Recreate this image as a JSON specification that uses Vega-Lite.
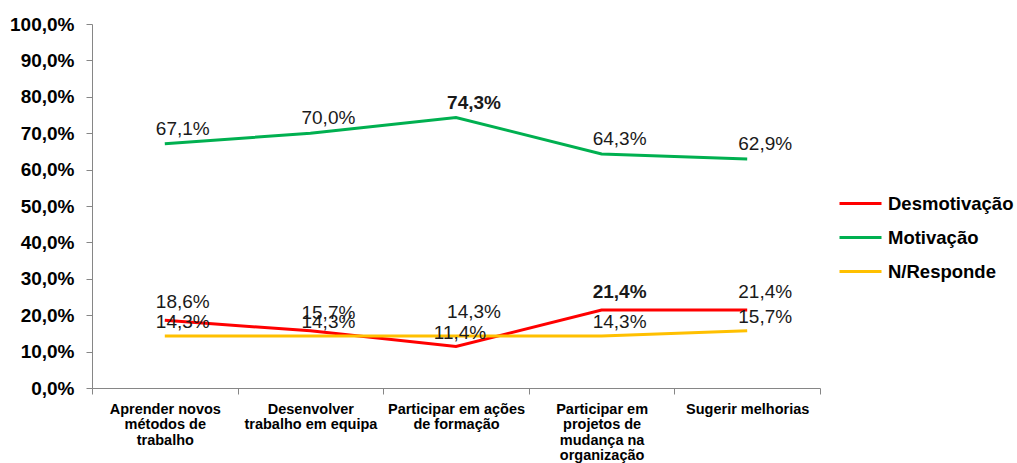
{
  "$schema": "https://vega.github.io/schema/vega-lite/v6.json",
  "width": 728,
  "height": 364,
  "autosize": {"type": "none"},
  "padding": {"left": 92, "top": 24, "right": 197, "bottom": 75},
  "background": "white",
  "config": {
    "locale": {"number": {"decimal": ",", "thousands": ".", "grouping": [3], "currency": ["", " €"]}},
    "view": {"stroke": null},
    "font": "Liberation Sans"
  },
  "data": {
    "values": [
      {"categoria": "Aprender novos métodos de trabalho", "serie": "Desmotivação", "valor": 0.186},
      {"categoria": "Desenvolver trabalho em equipa", "serie": "Desmotivação", "valor": 0.157},
      {"categoria": "Participar em ações de formação", "serie": "Desmotivação", "valor": 0.114},
      {"categoria": "Participar em projetos de mudança na organização", "serie": "Desmotivação", "valor": 0.214},
      {"categoria": "Sugerir melhorias", "serie": "Desmotivação", "valor": 0.214},
      {"categoria": "Aprender novos métodos de trabalho", "serie": "Motivação", "valor": 0.671},
      {"categoria": "Desenvolver trabalho em equipa", "serie": "Motivação", "valor": 0.700},
      {"categoria": "Participar em ações de formação", "serie": "Motivação", "valor": 0.743},
      {"categoria": "Participar em projetos de mudança na organização", "serie": "Motivação", "valor": 0.643},
      {"categoria": "Sugerir melhorias", "serie": "Motivação", "valor": 0.629},
      {"categoria": "Aprender novos métodos de trabalho", "serie": "N/Responde", "valor": 0.143},
      {"categoria": "Desenvolver trabalho em equipa", "serie": "N/Responde", "valor": 0.143},
      {"categoria": "Participar em ações de formação", "serie": "N/Responde", "valor": 0.143},
      {"categoria": "Participar em projetos de mudança na organização", "serie": "N/Responde", "valor": 0.143},
      {"categoria": "Sugerir melhorias", "serie": "N/Responde", "valor": 0.157}
    ]
  },
  "encoding": {
    "x": {
      "field": "categoria",
      "type": "nominal",
      "sort": null,
      "scale": {"type": "band", "paddingInner": 0, "paddingOuter": 0},
      "axis": {
        "title": null,
        "labelAngle": 0,
        "tickBand": "extent",
        "domainColor": "#868686",
        "tickColor": "#868686",
        "tickSize": 6,
        "labelPadding": 8,
        "labelFont": "Liberation Sans",
        "labelFontSize": 14.5,
        "labelFontWeight": "bold",
        "labelColor": "#000000",
        "labelLineHeight": 15.5,
        "labelBaseline": "top",
        "labelLimit": 200,
        "labelExpr": "datum.value == 'Aprender novos métodos de trabalho' ? ['Aprender novos','métodos de','trabalho'] : datum.value == 'Desenvolver trabalho em equipa' ? ['Desenvolver','trabalho em equipa'] : datum.value == 'Participar em ações de formação' ? ['Participar em ações','de formação'] : datum.value == 'Participar em projetos de mudança na organização' ? ['Participar em','projetos de','mudança na','organização'] : datum.value"
      }
    },
    "y": {
      "field": "valor",
      "type": "quantitative",
      "scale": {"domain": [0, 1]},
      "axis": {
        "title": null,
        "format": ".1%",
        "values": [0, 0.1, 0.2, 0.3, 0.4, 0.5, 0.6, 0.7, 0.8, 0.9, 1],
        "grid": false,
        "domainColor": "#868686",
        "tickColor": "#868686",
        "tickSize": 6,
        "labelPadding": 12,
        "labelFont": "Liberation Sans",
        "labelFontSize": 19,
        "labelFontWeight": "bold",
        "labelColor": "#000000"
      }
    }
  },
  "layer": [
    {
      "mark": {"type": "line", "strokeWidth": 3},
      "encoding": {
        "color": {
          "field": "serie",
          "type": "nominal",
          "scale": {"domain": ["Desmotivação", "Motivação", "N/Responde"], "range": ["#FF0000", "#00B050", "#FFC000"]},
          "legend": {
            "title": null,
            "orient": "none",
            "legendX": 746,
            "legendY": 157,
            "symbolType": "stroke",
            "symbolStrokeWidth": 3,
            "symbolSize": 1764,
            "rowPadding": 2,
            "labelOffset": 5,
            "labelFont": "Liberation Sans",
            "labelFontSize": 18.5,
            "labelFontWeight": "bold",
            "labelColor": "#000000"
          }
        }
      }
    },
    {
      "transform": [{"filter": "datum.serie == 'Motivação' && datum.categoria != 'Participar em ações de formação'"}],
      "mark": {"type": "text", "dx": 18, "dy": -15, "fontSize": 19, "font": "Liberation Sans", "color": "#1a1a1a"},
      "encoding": {"text": {"field": "valor", "type": "quantitative", "format": ".1%"}}
    },
    {
      "transform": [{"filter": "datum.serie == 'Desmotivação' && datum.categoria != 'Participar em projetos de mudança na organização' && datum.categoria != 'Participar em ações de formação'"}],
      "mark": {"type": "text", "dx": 18, "dy": -18, "fontSize": 19, "font": "Liberation Sans", "color": "#1a1a1a"},
      "encoding": {"text": {"field": "valor", "type": "quantitative", "format": ".1%"}}
    },
    {
      "transform": [{"filter": "datum.serie == 'Desmotivação' && datum.categoria == 'Participar em ações de formação'"}],
      "mark": {"type": "text", "dx": 4, "dy": -14, "fontSize": 19, "font": "Liberation Sans", "color": "#1a1a1a"},
      "encoding": {"text": {"field": "valor", "type": "quantitative", "format": ".1%"}}
    },
    {
      "transform": [{"filter": "datum.serie == 'N/Responde' && datum.categoria != 'Participar em ações de formação'"}],
      "mark": {"type": "text", "dx": 18, "dy": -14, "fontSize": 19, "font": "Liberation Sans", "color": "#1a1a1a"},
      "encoding": {"text": {"field": "valor", "type": "quantitative", "format": ".1%"}}
    },
    {
      "transform": [{"filter": "datum.serie == 'N/Responde' && datum.categoria == 'Participar em ações de formação'"}],
      "mark": {"type": "text", "dx": 18, "dy": -24, "fontSize": 19, "font": "Liberation Sans", "color": "#1a1a1a"},
      "encoding": {"text": {"field": "valor", "type": "quantitative", "format": ".1%"}}
    },
    {
      "transform": [{"filter": "datum.serie == 'Motivação' && datum.categoria == 'Participar em ações de formação'"}],
      "mark": {"type": "text", "dx": 18, "dy": -15, "fontSize": 19, "fontWeight": "bold", "font": "Liberation Sans", "color": "#1a1a1a"},
      "encoding": {"text": {"field": "valor", "type": "quantitative", "format": ".1%"}}
    },
    {
      "transform": [{"filter": "datum.serie == 'Desmotivação' && datum.categoria == 'Participar em projetos de mudança na organização'"}],
      "mark": {"type": "text", "dx": 18, "dy": -18, "fontSize": 19, "fontWeight": "bold", "font": "Liberation Sans", "color": "#1a1a1a"},
      "encoding": {"text": {"field": "valor", "type": "quantitative", "format": ".1%"}}
    }
  ]
}
